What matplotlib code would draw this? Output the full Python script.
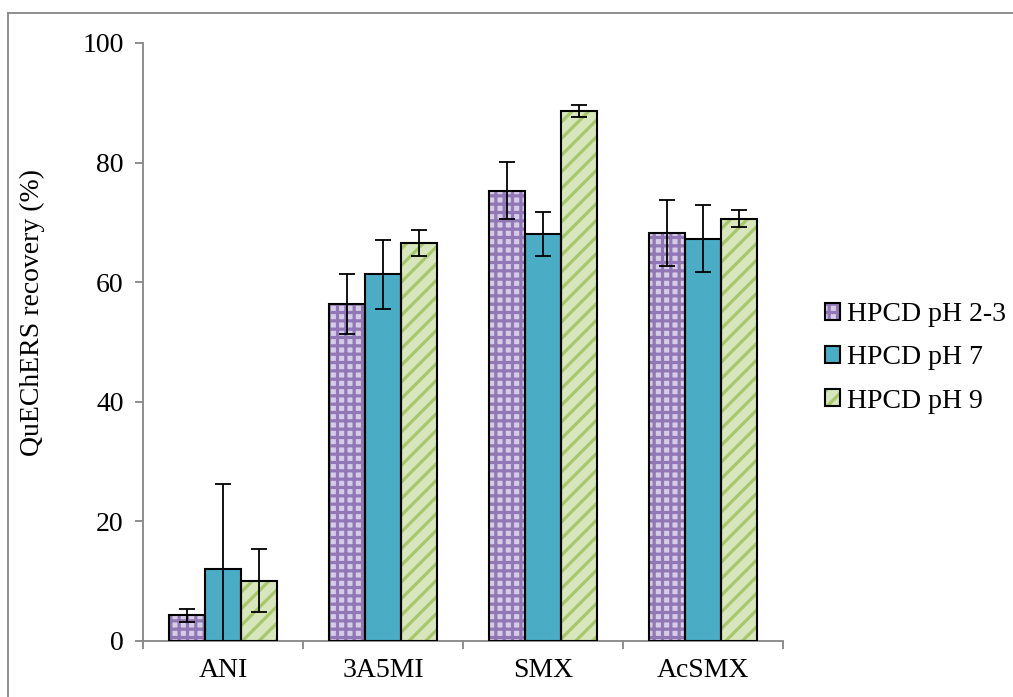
import matplotlib
matplotlib.use("Agg")
import matplotlib.pyplot as plt
from matplotlib.lines import Line2D
from matplotlib.patches import Patch
from matplotlib.legend_handler import HandlerTuple
import numpy as np

categories = ["ANI", "3A5MI", "SMX", "AcSMX"]
series_names = ["HPCD pH 2-3", "HPCD pH 7", "HPCD pH 9"]

ph23 = [4.3, 56.4, 75.3, 68.2]
ph23_err = [1.1, 5.0, 4.8, 5.5]
ph7 = [12.0, 61.3, 68.1, 67.3]
ph7_err = [14.2, 5.7, 3.7, 5.6]
ph9 = [10.1, 66.6, 88.6, 70.6]
ph9_err = [5.3, 2.2, 1.0, 1.4]

# fill colour, hatch, hatch colour
styles = [
    ("#d6cce6", "++", "#9277b6"),
    ("#4bacc6", "", "#4bacc6"),
    ("#d7e6bc", "//", "#a8c66c"),
]

plt.rcParams["font.family"] = ["Liberation Serif", "DejaVu Serif"]
plt.rcParams["hatch.linewidth"] = 2.3

fig = plt.figure(figsize=(10.13, 6.97), dpi=100)
ax = fig.add_axes([143 / 1013, 1 - 641 / 697, 640 / 1013, 598 / 697])

x = np.arange(len(categories))
width = 0.225
offsets = [-0.228, 0.0, 0.223]
values = [ph23, ph7, ph9]
errors = [ph23_err, ph7_err, ph9_err]

handles = []
for vals, errs, off, (fc, hatch, hc) in zip(values, errors, offsets, styles):
    ax.bar(x + off, vals, width, color=fc, hatch=hatch, edgecolor=hc,
           linewidth=0, zorder=2)
    ax.bar(x + off, vals, width, fill=False, edgecolor="black",
           linewidth=1.5, zorder=3)
    ax.errorbar(x + off, vals, yerr=errs, fmt="none", ecolor="black",
                elinewidth=1.3, capsize=6, capthick=1.3, zorder=4)
    handles.append((Patch(facecolor=fc, hatch=hatch, edgecolor=hc, linewidth=0),
                    Patch(fill=False, edgecolor="black", linewidth=1.5)))

ax.set_xlim(-0.5, len(categories) - 0.5)
ax.set_ylim(0, 100)
ax.set_yticks(range(0, 101, 20))

ax.set_xticks(np.arange(-0.5, len(categories), 1.0))
ax.set_xticklabels([])
ax.set_xticks(x, minor=True)
ax.set_xticklabels(categories, minor=True)
ax.tick_params(axis="x", which="minor", length=0, pad=12, labelsize=20)
ax.tick_params(axis="x", which="major", length=6, width=1.3,
               color="#868686", direction="out")
ax.tick_params(axis="y", length=6, width=1.3, color="#868686",
               direction="out", labelsize=20, pad=8)

for side in ["top", "right"]:
    ax.spines[side].set_visible(False)
for side in ["left", "bottom"]:
    ax.spines[side].set_color("#868686")
    ax.spines[side].set_linewidth(1.3)

ax.set_ylabel("QuEChERS recovery (%)", fontsize=20)
ax.yaxis.set_label_coords(-0.153, 0.55)

fig.legend(handles, series_names, handler_map={tuple: HandlerTuple(ndivide=1)},
           loc="center left", bbox_to_anchor=(800 / 1013, 1 - 358 / 697),
           frameon=False, fontsize=20, handlelength=0.55, handleheight=0.55,
           handletextpad=0.25, labelspacing=0.65)

# outer chart frame
fig.add_artist(Line2D([8 / 1013, 8 / 1013], [1 - 13 / 697, -0.01],
                      color="#868686", linewidth=1.3, transform=fig.transFigure))
fig.add_artist(Line2D([8 / 1013, 1.01], [1 - 13 / 697, 1 - 13 / 697],
                      color="#868686", linewidth=1.3, transform=fig.transFigure))

fig.savefig("out.png", dpi=100)
